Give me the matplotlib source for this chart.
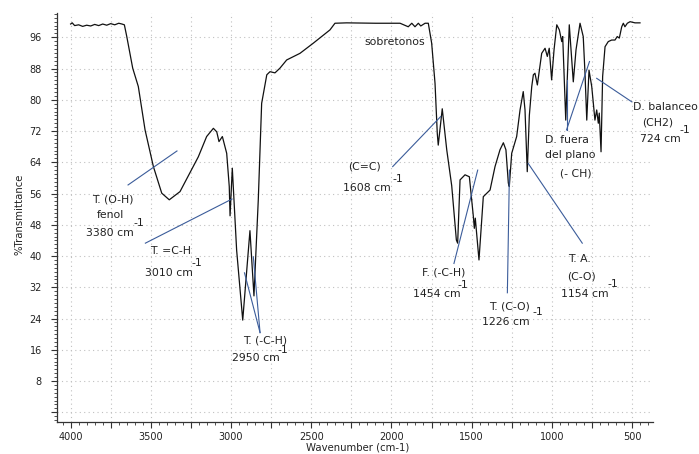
import numpy as np
import matplotlib
matplotlib.use("Agg")
import matplotlib.pyplot as plt
from matplotlib.ticker import MultipleLocator, FixedLocator, FuncFormatter

# ---- spectrum data (wavenumber cm-1, %T) ----
wavenumber = [4000, 3990, 3975, 3950, 3925, 3900, 3875, 3850, 3825, 3800, 3775, 3750,
              3725, 3700, 3680, 3665, 3650, 3613, 3578, 3536, 3484, 3432, 3385, 3318,
              3204, 3152, 3110, 3089, 3075, 3054, 3027, 3011, 3006, 2992, 2965, 2927,
              2882, 2857, 2830, 2809, 2777, 2757, 2726, 2695, 2653, 2570, 2487, 2383,
              2352, 2279, 2100, 1946, 1895, 1873, 1853, 1832, 1817, 1790, 1770, 1749,
              1728, 1714, 1708, 1683, 1655, 1624, 1595, 1587, 1572, 1541, 1514, 1489,
              1483, 1477, 1454, 1427, 1385, 1354, 1323, 1302, 1286, 1271, 1265, 1250,
              1219, 1198, 1178, 1167, 1153, 1140, 1125, 1115, 1105, 1090, 1063, 1042,
              1028, 1016, 1001, 986, 969, 953, 938, 932, 913, 891, 876, 866, 849, 824,
              804, 793, 782, 768, 751, 731, 720, 710, 704, 693, 683, 668, 648, 627, 606,
              592, 579, 564, 554, 544, 529, 512, 481, 450]
transmittance = [99.4, 99.7, 99.0, 99.2, 98.8, 99.1, 98.9, 99.3, 99.0, 99.4, 99.1, 99.5,
                 99.2, 99.6, 99.4, 99.2, 96.2, 88.1, 83.4, 72.3, 62.9, 56.1, 54.4, 56.5,
                 65.4, 70.6, 72.7, 71.8, 69.3, 70.6, 66.3, 57.8, 50.3, 62.5, 41.5, 23.6,
                 46.5, 29.8, 54.4, 79.1, 86.4, 87.2, 86.9, 88.1, 90.2, 91.9, 94.5, 97.9,
                 99.6, 99.7, 99.6, 99.6, 98.7, 99.6, 98.7, 99.6, 98.9, 99.6, 99.6, 94.5,
                 84.2, 71.4, 68.4, 77.7, 67.2, 58.0, 44.1, 43.3, 59.5, 60.8, 60.3, 50.1,
                 47.1, 49.7, 39.0, 55.2, 56.9, 62.9, 67.2, 69.0, 67.2, 58.7, 57.8, 66.3,
                 70.6, 77.4, 82.1, 77.4, 61.6, 76.0, 83.4, 86.4, 86.8, 83.8, 91.9, 93.2,
                 91.1, 93.2, 85.1, 92.8, 99.2, 97.9, 94.9, 96.2, 74.8, 99.2, 90.2, 84.6,
                 92.8, 99.6, 96.2, 86.8, 74.8, 87.6, 83.4, 74.8, 77.4, 74.0, 76.6, 66.7,
                 86.0, 93.6, 94.9, 95.3, 95.3, 96.2, 95.8, 98.7, 99.6, 98.7, 99.6, 100.0,
                 99.7, 99.7]

# ---- axis ticks ----
y_tick_values = [0, 8, 16, 24, 32, 40, 48, 56, 64, 72, 80, 88, 96]
x_tick_values = [4000, 3750, 3500, 3250, 3000, 2750, 2500, 2250, 2000, 1750, 1500, 1250, 1000, 750, 500]

# ---- annotation texts: (wn, %T, text) ----
label_texts = ["T. (O-H)", "fenol", "3380 cm", "-1",
               "T. =C-H", "3010 cm", "-1",
               "T. (-C-H)", "2950 cm", "-1",
               "(C=C)", "1608 cm", "-1",
               "sobretonos",
               "F. (-C-H)", "1454 cm", "-1",
               "T. (C-O)", "-1", "1226 cm",
               "T. A.", "(C-O)", "1154 cm", "-1",
               "D. fuera", "del plano", "(- CH)",
               "D. balanceo", "(CH2)", "724 cm", "-1"]
label_wn = [3734, 3750, 3753, 3573,
            3377, 3385, 3214,
            2790, 2847, 2674,
            2166, 2150, 1962,
            1981,
            1673, 1720, 1552,
            1262, 1088, 1284,
            826, 814, 792, 617,
            904, 882, 853,
            292, 338, 320, 170]
label_t = [54.5, 50.5, 46.0, 48.4,
           41.4, 35.7, 38.3,
           18.3, 13.8, 15.9,
           62.8, 57.4, 59.6,
           94.9,
           35.8, 30.3, 32.6,
           27.0, 25.6, 23.2,
           39.2, 34.7, 30.3, 32.8,
           69.7, 65.9, 61.2,
           78.2, 74.2, 69.9, 72.3]

# ---- leader lines: start (wn, %T) -> end (wn, %T) ----
leader_wn0 = [3642, 3534, 2819, 2819, 1992, 1610, 1277, 810, 908, 908, 720]
leader_t0 = [58.2, 43.3, 20.4, 20.4, 62.9, 38.1, 30.6, 43.3, 72.3, 72.3, 85.5]
leader_wn1 = [3337, 2994, 2916, 2861, 1693, 1462, 1264, 1147, 908, 765, 502]
leader_t1 = [66.9, 54.6, 35.7, 39.8, 75.7, 62.0, 62.0, 63.7, 85.1, 89.8, 79.5]

plt.rcParams['font.family'] = ['DejaVu Sans']
txt_color = '#222222'

fig = plt.figure(figsize=(6.99, 4.54), dpi=100)
ax = fig.add_axes([57/699, 1-422.3/454, (653-57)/699, (422.3-12.7)/454])

ax.plot(wavenumber, transmittance, color='#111111', lw=0.9, zorder=3)

for w0, t0, w1, t1 in zip(leader_wn0, leader_t0, leader_wn1, leader_t1):
    ax.plot([w0, w1], [t0, t1], color='#3b5c9a', lw=0.8, zorder=4)

for w, t, s in zip(label_wn, label_t, label_texts):
    ax.text(w, t, s, fontsize=7.8, color=txt_color, ha='center', va='center',
            clip_on=False, zorder=5)

ax.set_xlim(4085, 369)
ax.set_ylim(-2.56, 102.3)

ax.xaxis.set_major_locator(FixedLocator(x_tick_values))
ax.xaxis.set_minor_locator(MultipleLocator(50))
ax.xaxis.set_major_formatter(FuncFormatter(lambda v, p: f"{int(v)}" if int(v) % 500 == 0 else ""))
ax.yaxis.set_major_locator(FixedLocator(y_tick_values))
ax.yaxis.set_minor_locator(MultipleLocator(1))
ax.yaxis.set_major_formatter(FuncFormatter(lambda v, p: "" if v == 0 else f"{int(v)}"))

ax.tick_params(axis='both', which='major', direction='out', length=4, width=0.8,
               colors='#333333', labelsize=7.0, labelcolor=txt_color)
ax.tick_params(axis='x', which='major', pad=3)
ax.tick_params(axis='y', which='major', pad=7)
ax.tick_params(axis='both', which='minor', direction='out', length=2.2, width=0.6, colors='#333333')

for side in ['top', 'right']:
    ax.spines[side].set_visible(False)
for side in ['left', 'bottom']:
    ax.spines[side].set_color('#333333')
    ax.spines[side].set_linewidth(0.9)

ax.grid(True, which='major', linestyle=(0, (1, 3)), color='#c0c0c0', lw=0.8)
ax.set_axisbelow(True)

fig.text(358/699, 1-447/454, "Wavenumber (cm-1)", fontsize=7.3, color=txt_color,
         ha='center', va='center')
fig.text(20/699, 1-214/454, "%Transmittance", fontsize=7.3, color=txt_color,
         ha='center', va='center', rotation=90)

fig.savefig("out.png", dpi=100)
